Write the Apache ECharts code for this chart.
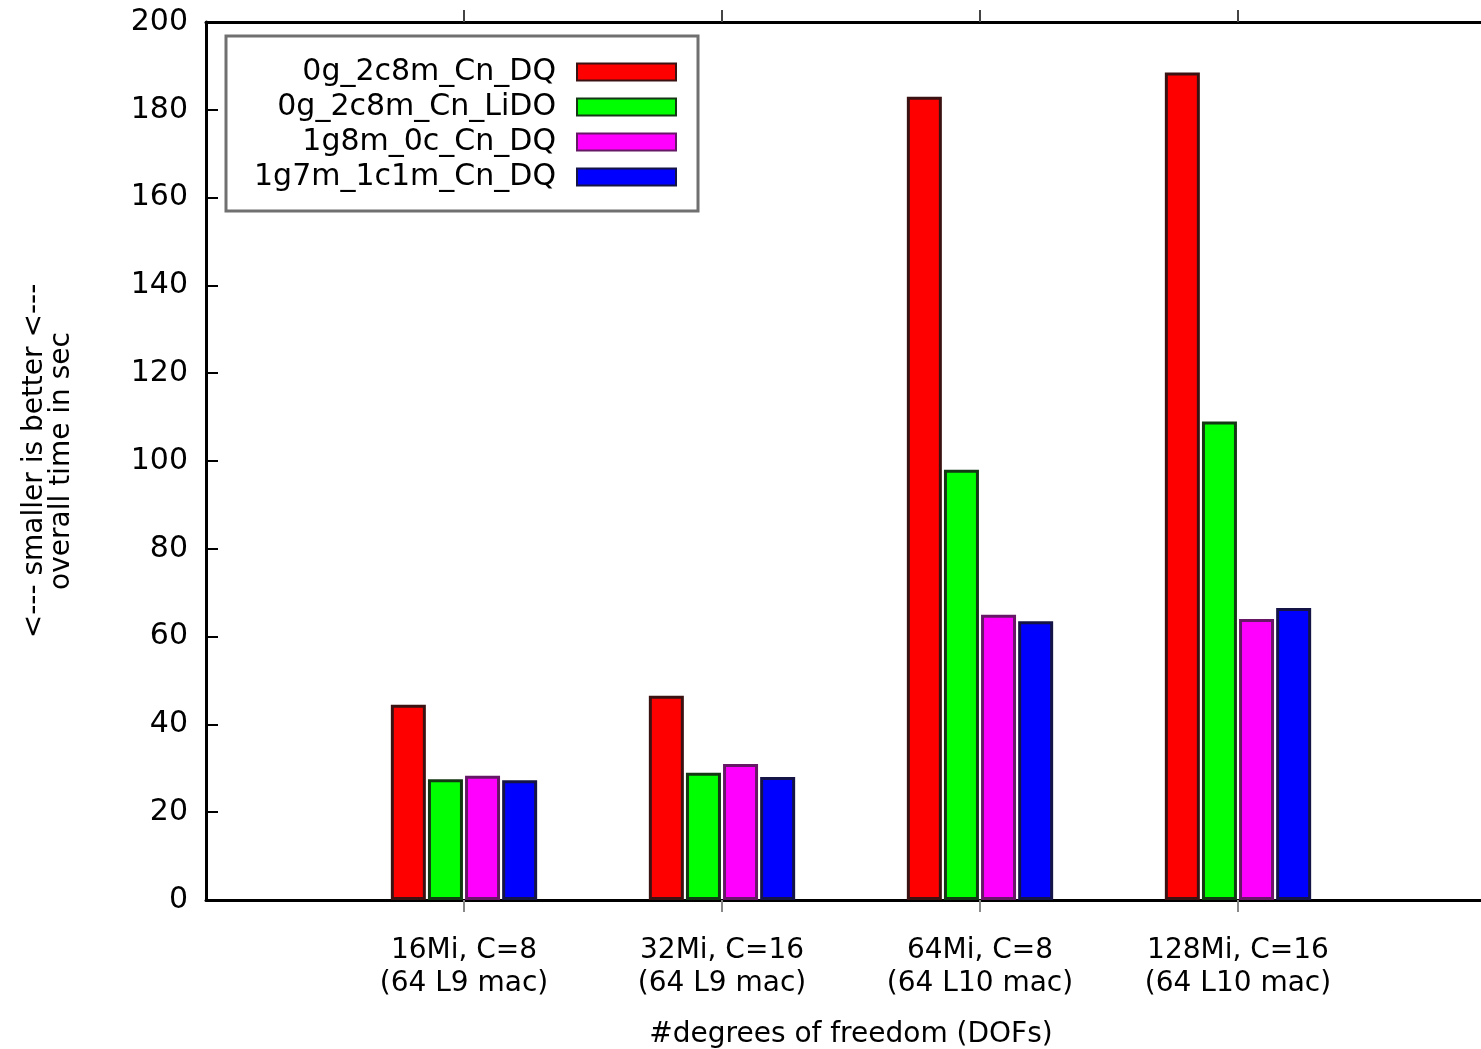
<!DOCTYPE html>
<html>
<head>
<meta charset="utf-8">
<script src="https://cdn.jsdelivr.net/npm/echarts@6/dist/echarts.min.js"></script>
<style>
html, body { margin: 0; padding: 0; background: #fff; }
#main { width: 1481px; height: 1049px; }
</style>
</head>
<body>
<div id="main"></div>
<script>
// categories (empty slots at both ends pad the x range like the original)
var categories = ['', '16Mi, C=8\n(64 L9 mac)', '32Mi, C=16\n(64 L9 mac)', '64Mi, C=8\n(64 L10 mac)', '128Mi, C=16\n(64 L10 mac)', ''];
var seriesNames = ['0g_2c8m_Cn_DQ', '0g_2c8m_Cn_LiDO', '1g8m_0c_Cn_DQ', '1g7m_1c1m_Cn_DQ'];
var dq2c8m   = [null, 44.5, 46.5, 183, 188.5, null];
var lido2c8m = [null, 27.5, 29, 98, 109, null];
var dq1g8m   = [null, 28.3, 31, 65, 64, null];
var dq1g7m   = [null, 27.3, 28, 63.5, 66.5, null];
var yTicks = { min: 0, max: 200, interval: 20 };

var fills = ['#ff0000', '#00ff00', '#ff00ff', '#0000ff'];
var edges = ['#3a1212', '#143814', '#661866', '#141446'];
var values = [dq2c8m, lido2c8m, dq1g8m, dq1g7m];

var chart = echarts.init(document.getElementById('main'));

var series = [];
for (var i = 0; i < seriesNames.length; i++) {
    series.push({
        name: seriesNames[i],
        type: 'bar',
        xAxisIndex: 0,
        barWidth: 35,
        barGap: '6%',
        data: values[i],
        itemStyle: { color: fills[i], borderColor: edges[i], borderWidth: 3 }
    });
}

var tickShow = function (idx) { return idx > 0 && idx < categories.length - 1; };

var option = {
    animation: false,
    textStyle: { fontFamily: 'DejaVu Sans', color: '#000' },
    // plot runs past the right edge of the picture, as in the original
    grid: { left: 206, top: 22, width: 1290, height: 878, containLabel: false, outerBoundsMode: 'none' },
    legend: {
        orient: 'vertical',
        align: 'right',
        left: 226,
        top: 36,
        padding: [21, 21, 19, 28],
        icon: 'rect',
        itemWidth: 99,
        itemHeight: 17,
        itemGap: 5,
        borderColor: '#707070',
        borderWidth: 3,
        textStyle: { fontSize: 30, lineHeight: 30, color: '#000', fontFamily: 'DejaVu Sans', padding: [0, 16, 0, 0] },
        data: seriesNames
    },
    xAxis: [{
        type: 'category',
        data: categories,
        boundaryGap: false,
        position: 'bottom',
        axisLine: { lineStyle: { color: '#000', width: 3 } },
        axisTick: { show: true, length: 12, interval: tickShow, lineStyle: { color: '#888', width: 2 } },
        axisLabel: { interval: 0, fontSize: 28, lineHeight: 33, margin: 34, color: '#000' },
        splitLine: { show: false },
        name: '#degrees of freedom (DOFs)',
        nameLocation: 'middle',
        nameGap: 121,
        nameTextStyle: { fontSize: 28, color: '#000' }
    }, {
        type: 'category',
        data: categories,
        boundaryGap: false,
        position: 'top',
        axisLine: { lineStyle: { color: '#000', width: 3 } },
        axisTick: { show: true, length: 12, interval: tickShow, lineStyle: { color: '#444', width: 2 } },
        axisLabel: { show: false }
    }],
    yAxis: {
        type: 'value',
        min: yTicks.min,
        max: yTicks.max,
        interval: yTicks.interval,
        axisLine: { show: true, lineStyle: { color: '#000', width: 3 } },
        axisTick: { show: true, inside: true, length: 12, lineStyle: { color: '#000', width: 2 } },
        axisLabel: { fontSize: 30, margin: 18, color: '#000' },
        splitLine: { show: false },
        name: '<--- smaller is better <---\noverall time in sec',
        nameLocation: 'middle',
        nameRotate: 90,
        nameGap: 131,
        nameTextStyle: { fontSize: 28, lineHeight: 27, color: '#000' }
    },
    series: series
};

chart.setOption(option);
</script>
</body>
</html>
